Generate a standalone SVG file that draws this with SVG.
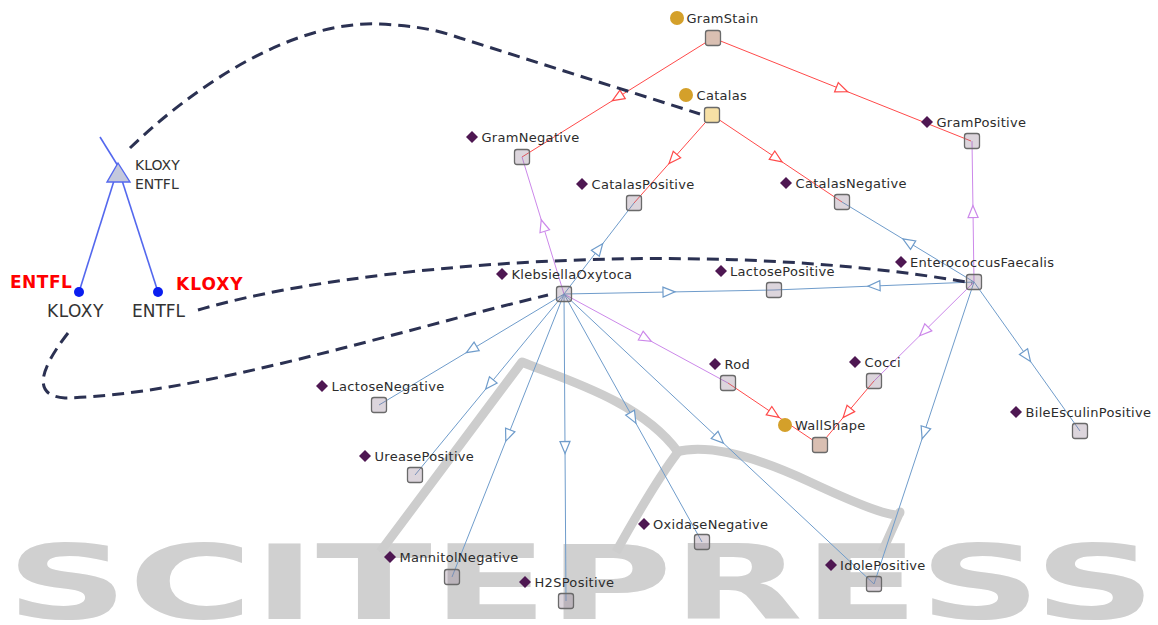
<svg xmlns="http://www.w3.org/2000/svg" width="1158" height="625" viewBox="0 0 1158 625">
<style>
.lbl{font-family:"DejaVu Sans",Verdana,sans-serif;font-size:13px;fill:#2c2c2c;letter-spacing:0.3px}
.box{fill:#8f768f;fill-opacity:0.31;stroke:#6a6a6a;stroke-width:1.3}
.dia{fill:#4e1752}
.cir{fill:#d4a02a}
.red{fill:none;stroke:#ff4a4a;stroke-width:1;marker-mid:url(#ar)}
.vio{fill:none;stroke:#cc88ea;stroke-width:1;marker-mid:url(#av)}
.blu{fill:none;stroke:#6f9ccb;stroke-width:1;marker-mid:url(#ab)}
.dash{fill:none;stroke:#2b3152;stroke-width:3;stroke-dasharray:12 7}
.tree{fill:none;stroke:#5468ee;stroke-width:1.6}
.wm{fill:none;stroke:#cdcdcd;stroke-width:9;stroke-linejoin:round}
</style>
<defs>
<marker id="ar" markerUnits="userSpaceOnUse" markerWidth="14" markerHeight="12" refX="6" refY="5" orient="auto" overflow="visible"><path d="M0,0 L12,5 L0,10 Z" fill="#fff" stroke="#ff4a4a" stroke-width="1.2"/></marker>
<marker id="av" markerUnits="userSpaceOnUse" markerWidth="14" markerHeight="12" refX="6" refY="5" orient="auto" overflow="visible"><path d="M0,0 L12,5 L0,10 Z" fill="#fff" stroke="#cc88ea" stroke-width="1.2"/></marker>
<marker id="ab" markerUnits="userSpaceOnUse" markerWidth="14" markerHeight="12" refX="6" refY="5" orient="auto" overflow="visible"><path d="M0,0 L12,5 L0,10 Z" fill="#fff" stroke="#6f9ccb" stroke-width="1.2"/></marker>
</defs>
<rect width="1158" height="625" fill="#ffffff"/>
<g id="watermark">
<text x="6" y="619" textLength="1150" lengthAdjust="spacingAndGlyphs" font-family="DejaVu Sans, sans-serif" font-weight="bold" font-size="104" fill="#d0d0d0">SCITEPRESS</text>
<path class="wm" d="M380,552 L522,362 C560,378 640,400 678,452"/>
<path class="wm" d="M676,452 Q720,440 810,482 T900,512 L882,552"/>
<path class="wm" d="M678,452 Q655,482 616,552"/>
</g>
<g id="connectors">
<path class="red" d="M713,38 L617.5,97.5 L522,157"/>
<path class="red" d="M713,38 L842,89.5 L971,141"/>
<path class="red" d="M712,115 L673,159 L634,203"/>
<path class="red" d="M712,115 L777,158.5 L842,202"/>
<path class="red" d="M728,383 L774,414 L820,445"/>
<path class="red" d="M874,381 L847,413 L820,445"/>
<path class="vio" d="M974,282 L973,211.5 L972,141"/>
<path class="vio" d="M564,294 L543,225.5 L522,157"/>
<path class="vio" d="M564,294 L646,338.5 L728,383"/>
<path class="vio" d="M974,282 L924,331.5 L874,381"/>
<path class="blu" d="M564,294 L599,248.5 L634,203"/>
<path class="blu" d="M564,294 L669,292 L774,290"/>
<path class="blu" d="M564,294 L471.5,349.5 L379,405"/>
<path class="blu" d="M564,294 L489.5,384.5 L415,475"/>
<path class="blu" d="M564,294 L508,435.5 L452,577"/>
<path class="blu" d="M564,294 L565,447.5 L566,601"/>
<path class="blu" d="M564,294 L633,418 L702,542"/>
<path class="blu" d="M564,294 L719,439 L874,584"/>
<path class="blu" d="M974,282 L908,242 L842,202"/>
<path class="blu" d="M974,282 L874,286 L774,290"/>
<path class="blu" d="M974,282 L1027,356.5 L1080,431"/>
<path class="blu" d="M974,282 L924,433 L874,584"/>
<path class="tree" d="M100,137 L118,166"/>
<path class="tree" d="M118,168 L158,292"/>
<path class="tree" d="M118,168 L79,292"/>
<path class="dash" d="M130,148 C190,90 290,20 380,24 C420,26 440,31 460,38 L700,114"/>
<path class="dash" d="M198,310 C350,265 700,235 972,283"/>
<path class="dash" d="M68,333 Q20,395 65,398 C200,395 400,330 548,295"/>
</g>
<g id="tree-root">
<polygon points="118,163 107,182 130,182" fill="#c4c8dc" stroke="#5468ee" stroke-width="1.4"/>
<text x="135" y="170" font-family="DejaVu Sans, sans-serif" font-size="14" fill="#333">KLOXY</text>
<text x="135" y="189" font-family="DejaVu Sans, sans-serif" font-size="14" fill="#333">ENTFL</text>
</g>
<g id="tree-left">
<circle cx="79" cy="292" r="5" fill="#0a1ef0"/>
<text x="10" y="288" font-family="DejaVu Sans, sans-serif" font-weight="bold" font-size="17" fill="#ff0000" letter-spacing="0.5">ENTFL</text>
<text x="47" y="317" font-family="DejaVu Sans, sans-serif" font-size="17" fill="#333" letter-spacing="0.5">KLOXY</text>
</g>
<g id="tree-right">
<circle cx="158" cy="292" r="5" fill="#0a1ef0"/>
<text x="176" y="290" font-family="DejaVu Sans, sans-serif" font-weight="bold" font-size="17" fill="#ff0000" letter-spacing="1">KLOXY</text>
<text x="132" y="317" font-family="DejaVu Sans, sans-serif" font-size="17" fill="#333">ENTFL</text>
</g>
<g id="GramStain"><circle class="cir" cx="677" cy="18" r="7"/><text class="lbl" x="686.5" y="23">GramStain</text><rect x="705.5" y="30.5" width="15" height="15" rx="2.5" fill="#d9bfb2" stroke="#6a6a6a" stroke-width="1.3"/></g>
<g id="Catalas"><circle class="cir" cx="686" cy="95" r="7"/><text class="lbl" x="696.5" y="100">Catalas</text><rect x="704.5" y="107.5" width="15" height="15" rx="2.5" fill="#f7e0a5" stroke="#6a6a6a" stroke-width="1.3"/></g>
<g id="GramNegative"><path class="dia" d="M472,131 L478,137 L472,143 L466,137 Z"/><text class="lbl" x="481.5" y="142">GramNegative</text><rect class="box" x="514.5" y="149.5" width="15" height="15" rx="2.5"/></g>
<g id="GramPositive"><path class="dia" d="M927,116 L933,122 L927,128 L921,122 Z"/><text class="lbl" x="936.5" y="127">GramPositive</text><rect class="box" x="964.5" y="133.5" width="15" height="15" rx="2.5"/></g>
<g id="CatalasPositive"><path class="dia" d="M582,178 L588,184 L582,190 L576,184 Z"/><text class="lbl" x="591.5" y="189">CatalasPositive</text><rect class="box" x="626.5" y="195.5" width="15" height="15" rx="2.5"/></g>
<g id="CatalasNegative"><path class="dia" d="M786,177 L792,183 L786,189 L780,183 Z"/><text class="lbl" x="795.5" y="188">CatalasNegative</text><rect class="box" x="834.5" y="194.5" width="15" height="15" rx="2.5"/></g>
<g id="EnterococcusFaecalis"><path class="dia" d="M901,256 L907,262 L901,268 L895,262 Z"/><text class="lbl" x="910" y="267">EnterococcusFaecalis</text><rect class="box" x="966.5" y="274.5" width="15" height="15" rx="2.5"/></g>
<g id="KlebsiellaOxytoca"><path class="dia" d="M502,268 L508,274 L502,280 L496,274 Z"/><text class="lbl" x="511.5" y="279">KlebsiellaOxytoca</text><rect class="box" x="556.5" y="286.5" width="15" height="15" rx="2.5"/></g>
<g id="LactosePositive"><path class="dia" d="M721,265 L727,271 L721,277 L715,271 Z"/><text class="lbl" x="730" y="276">LactosePositive</text><rect class="box" x="766.5" y="282.5" width="15" height="15" rx="2.5"/></g>
<g id="Rod"><path class="dia" d="M715,358 L721,364 L715,370 L709,364 Z"/><text class="lbl" x="724.5" y="369">Rod</text><rect class="box" x="720.5" y="375.5" width="15" height="15" rx="2.5"/></g>
<g id="Cocci"><path class="dia" d="M855,356 L861,362 L855,368 L849,362 Z"/><text class="lbl" x="864.5" y="367">Cocci</text><rect class="box" x="866.5" y="373.5" width="15" height="15" rx="2.5"/></g>
<g id="WallShape"><circle class="cir" cx="785" cy="425" r="7"/><text class="lbl" x="795" y="430">WallShape</text><rect x="812.5" y="437.5" width="15" height="15" rx="2.5" fill="#d9bfb2" stroke="#6a6a6a" stroke-width="1.3"/></g>
<g id="LactoseNegative"><path class="dia" d="M322,380 L328,386 L322,392 L316,386 Z"/><text class="lbl" x="331.5" y="391">LactoseNegative</text><rect class="box" x="371.5" y="397.5" width="15" height="15" rx="2.5"/></g>
<g id="UreasePositive"><path class="dia" d="M365,450 L371,456 L365,462 L359,456 Z"/><text class="lbl" x="374.5" y="461">UreasePositive</text><rect class="box" x="407.5" y="467.5" width="15" height="15" rx="2.5"/></g>
<g id="BileEsculinPositive"><path class="dia" d="M1016,406 L1022,412 L1016,418 L1010,412 Z"/><text class="lbl" x="1025.5" y="417">BileEsculinPositive</text><rect class="box" x="1072.5" y="423.5" width="15" height="15" rx="2.5"/></g>
<g id="OxidaseNegative"><path class="dia" d="M644,518 L650,524 L644,530 L638,524 Z"/><text class="lbl" x="653" y="529">OxidaseNegative</text><rect class="box" x="694.5" y="534.5" width="15" height="15" rx="2.5"/></g>
<g id="MannitolNegative"><path class="dia" d="M390,551 L396,557 L390,563 L384,557 Z"/><text class="lbl" x="399.5" y="562">MannitolNegative</text><rect class="box" x="444.5" y="569.5" width="15" height="15" rx="2.5"/></g>
<g id="H2SPositive"><path class="dia" d="M525,576 L531,582 L525,588 L519,582 Z"/><text class="lbl" x="534.5" y="587">H2SPositive</text><rect class="box" x="558.5" y="593.5" width="15" height="15" rx="2.5"/></g>
<g id="IdolePositive"><path class="dia" d="M831,559 L837,565 L831,571 L825,565 Z"/><text class="lbl" x="840" y="570">IdolePositive</text><rect class="box" x="866.5" y="576.5" width="15" height="15" rx="2.5"/></g>
</svg>
